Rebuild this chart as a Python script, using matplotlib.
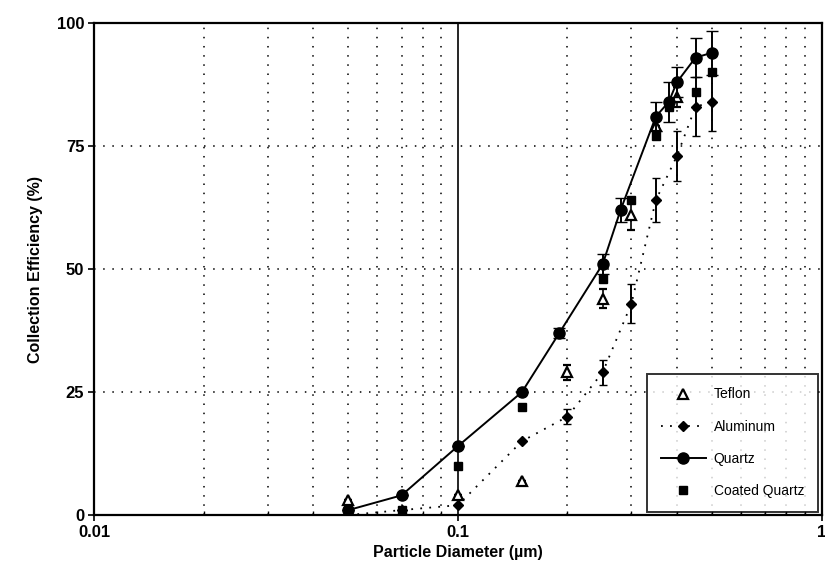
import matplotlib
matplotlib.use('Agg')
import matplotlib.pyplot as plt
from matplotlib.lines import Line2D
from matplotlib.ticker import FixedLocator, NullFormatter

plt.rcParams['font.family'] = ['Liberation Sans', 'DejaVu Sans']

# data
teflon_x = [0.05, 0.1, 0.15, 0.2, 0.25, 0.3, 0.35, 0.4]
teflon_y = [3, 4, 7, 29, 44, 61, 79, 85]
teflon_err = [0, 0, 0, 1.5, 2, 3, 0, 2]

alum_x = [0.05, 0.07, 0.1, 0.15, 0.2, 0.25, 0.3, 0.35, 0.4, 0.45, 0.5]
alum_y = [0, 1, 2, 15, 20, 29, 43, 64, 73, 83, 84]
alum_err = [0, 0, 0, 0, 1.5, 2.5, 4, 4.5, 5, 6, 6]

quartz_x = [0.05, 0.07, 0.1, 0.15, 0.19, 0.25, 0.28, 0.35, 0.38, 0.4, 0.45, 0.5]
quartz_y = [1, 4, 14, 25, 37, 51, 62, 81, 84, 88, 93, 94]
quartz_err = [0, 0, 0, 0, 1, 2, 2.5, 3, 4, 3, 4, 4.5]

coated_x = [0.05, 0.07, 0.1, 0.15, 0.25, 0.3, 0.35, 0.38, 0.45, 0.5]
coated_y = [0.5, 1, 10, 22, 48, 64, 77, 83, 86, 90]

fig = plt.figure(figsize=(8.25, 5.79), dpi=100)
ax = fig.add_axes([0.114, 0.1105, 0.882, 0.8495])

ax.set_xscale('log')
ax.set_xlim(0.01, 1)
ax.set_ylim(0, 100)

# grid: solid at 0.1, dotted elsewhere
minors = [m * d for d in (0.01, 0.1) for m in range(2, 10)]
for xv in minors:
    ax.axvline(xv, color='black', lw=1.1, ls=(0, (1, 5)), zorder=1)
ax.axvline(0.1, color='black', lw=1.2, zorder=1)
for yv in (25, 50, 75):
    ax.axhline(yv, color='black', lw=1.1, ls=(0, (1, 5)), zorder=1)

ax.errorbar(teflon_x, teflon_y, yerr=teflon_err, fmt='^', mfc='white', mec='black',
            mew=1.6, ms=7, ecolor='black', elinewidth=1.2, capsize=3, zorder=3)
ax.errorbar(alum_x, alum_y, yerr=alum_err, fmt='D', ls=(0, (1, 4)), color='black', lw=1.3,
            ms=5.5, ecolor='black', elinewidth=1.4, capsize=3, zorder=3)
ax.errorbar(quartz_x, quartz_y, yerr=quartz_err, fmt='o-', color='black', lw=1.4,
            ms=8, ecolor='black', elinewidth=1.4, capsize=4, zorder=4)
ax.plot(coated_x, coated_y, 's', color='black', ms=5.5, zorder=3)

handles = [
    Line2D([], [], marker='^', ls='none', mfc='white', mec='black', mew=1.6, ms=7),
    Line2D([], [], marker='D', ls=(0, (1, 4)), color='black', lw=1.3, ms=5.5),
    Line2D([], [], marker='o', ls='-', color='black', lw=1.4, ms=8),
    Line2D([], [], marker='s', ls='none', color='black', ms=5.5),
]
labels = ['Teflon', 'Aluminum', 'Quartz', 'Coated Quartz']

ax.xaxis.set_major_locator(FixedLocator([0.01, 0.1, 1]))
ax.set_xticklabels(['0.01', '0.1', '1'])
ax.xaxis.set_minor_locator(FixedLocator(minors))
ax.xaxis.set_minor_formatter(NullFormatter())
ax.set_yticks([0, 25, 50, 75, 100])
ax.tick_params(axis='both', which='major', direction='out', length=4, width=1.2,
               labelsize=12, pad=3)
ax.tick_params(axis='x', which='minor', direction='in', length=3, width=1)
for lab in ax.get_xticklabels() + ax.get_yticklabels():
    lab.set_fontweight('bold')

for sp in ax.spines.values():
    sp.set_linewidth(1.6)

ax.set_xlabel('Particle Diameter (\u00b5m)', fontsize=11.5, fontweight='bold', labelpad=4)
ax.set_ylabel('Collection Efficiency (%)', fontsize=11.5, fontweight='bold', labelpad=10)

leg = ax.legend(handles, labels, loc='lower right', bbox_to_anchor=(1.0, 0.0),
                borderaxespad=0.25, frameon=True, fancybox=False, edgecolor='black',
                fontsize=10, borderpad=1.0, labelspacing=1.3, handlelength=3.2,
                handletextpad=0.6)
leg.get_frame().set_linewidth(1.4)

fig.savefig('out.png', dpi=100)
